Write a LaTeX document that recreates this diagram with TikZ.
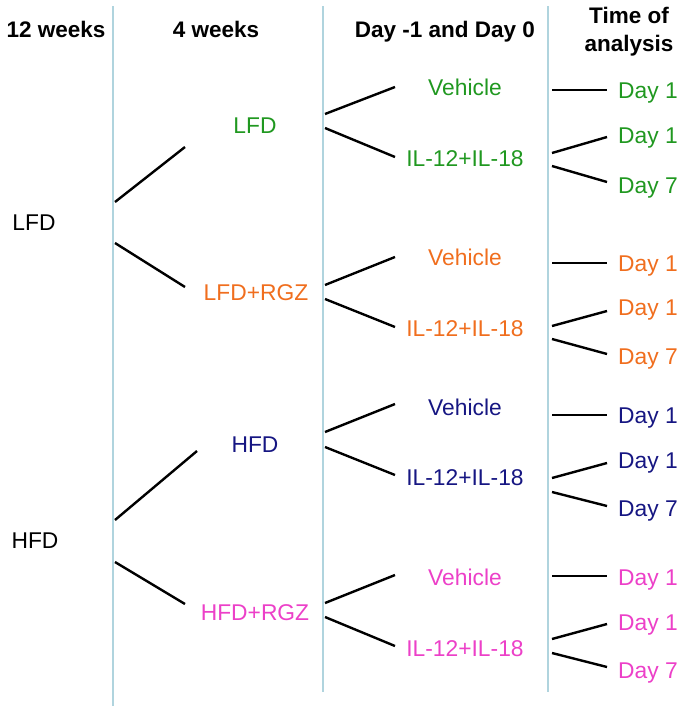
\documentclass[tikz,border=0pt]{standalone}
\usepackage{fontspec}
\setmainfont{Liberation Sans}
\definecolor{lfdcol}{RGB}{32,152,32}
\definecolor{rgzcol}{RGB}{240,110,30}
\definecolor{hfdcol}{RGB}{22,22,130}
\definecolor{hrgzcol}{RGB}{236,64,200}
\definecolor{sepcol}{RGB}{176,212,222}

\begin{document}
\begin{tikzpicture}[x=1pt, y=-1pt,
  lbl/.style={inner sep=0pt, text height=16.2pt, text depth=0pt, font=\fontsize{22.8}{26}\selectfont},
  hdr/.style={inner sep=0pt, anchor=base, font=\fontsize{22.5}{28}\selectfont\bfseries},
  sep/.style={draw=sepcol, line width=2pt},
  branch/.style={line width=2.4pt}]
\useasboundingbox (0,0) rectangle (686,713);

% column separators
\draw[sep] (113,6) -- (113,706);
\draw[sep] (323,6) -- (323,692);
\draw[sep] (548,6) -- (548,692);

% headers
\node[hdr] (h12w) at (56,37) {12 weeks};
\node[hdr] (h4w) at (216,37) {4 weeks};
\node[hdr] (hday) at (445,37) {Day -1 and Day 0};
\node[hdr, anchor=north, align=center] (htime) at (629,7) {Time of\\analysis};

% diets, 12 weeks
\node[lbl] (lfd0) at (34,222) {LFD};
\node[lbl] (hfd0) at (35,540) {HFD};

% diets, 4 weeks
\node[lbl, text=lfdcol] (lfd) at (255,125) {LFD};
\node[lbl, text=rgzcol] (lrgz) at (256,292) {LFD+RGZ};
\node[lbl, text=hfdcol] (hfd) at (255,444) {HFD};
\node[lbl, text=hrgzcol] (hrgz) at (255,612) {HFD+RGZ};

% treatment
\node[lbl, text=lfdcol] (lfd-veh) at (465,87) {Vehicle};
\node[lbl, text=lfdcol] (lfd-il) at (465,158) {IL-12+IL-18};
\node[lbl, text=rgzcol] (lrgz-veh) at (465,257) {Vehicle};
\node[lbl, text=rgzcol] (lrgz-il) at (465,328) {IL-12+IL-18};
\node[lbl, text=hfdcol] (hfd-veh) at (465,407) {Vehicle};
\node[lbl, text=hfdcol] (hfd-il) at (465,477) {IL-12+IL-18};
\node[lbl, text=hrgzcol] (hrgz-veh) at (465,577) {Vehicle};
\node[lbl, text=hrgzcol] (hrgz-il) at (465,648) {IL-12+IL-18};

% time of analysis
\node[lbl, text=lfdcol] (lfd-d1) at (648,90) {Day 1};
\node[lbl, text=lfdcol] (lfd-d1b) at (648,135) {Day 1};
\node[lbl, text=lfdcol] (lfd-d7) at (648,185) {Day 7};
\node[lbl, text=rgzcol] (lrgz-d1) at (648,263) {Day 1};
\node[lbl, text=rgzcol] (lrgz-d1b) at (648,307) {Day 1};
\node[lbl, text=rgzcol] (lrgz-d7) at (648,356) {Day 7};
\node[lbl, text=hfdcol] (hfd-d1) at (648,415) {Day 1};
\node[lbl, text=hfdcol] (hfd-d1b) at (648,460) {Day 1};
\node[lbl, text=hfdcol] (hfd-d7) at (648,508) {Day 7};
\node[lbl, text=hrgzcol] (hrgz-d1) at (648,577) {Day 1};
\node[lbl, text=hrgzcol] (hrgz-d1b) at (648,622) {Day 1};
\node[lbl, text=hrgzcol] (hrgz-d7) at (648,670) {Day 7};

% branch ends, 12 weeks -> 4 weeks
\coordinate (l-up0) at (115,202); \coordinate (l-up1) at (185,147);
\coordinate (l-dn0) at (115,243); \coordinate (l-dn1) at (185,287);
\coordinate (h-up0) at (115,520); \coordinate (h-up1) at (197,451);
\coordinate (h-dn0) at (115,562); \coordinate (h-dn1) at (185,604);
\draw[branch] (l-up0) -- (l-up1);
\draw[branch] (l-dn0) -- (l-dn1);
\draw[branch] (h-up0) -- (h-up1);
\draw[branch] (h-dn0) -- (h-dn1);

% branch ends, 4 weeks -> treatment
\coordinate (lfd-a0) at (325,114); \coordinate (lfd-a1) at (395,87);
\coordinate (lfd-b0) at (325,128); \coordinate (lfd-b1) at (395,157);
\coordinate (lrgz-a0) at (325,285); \coordinate (lrgz-a1) at (395,257);
\coordinate (lrgz-b0) at (325,299); \coordinate (lrgz-b1) at (395,327);
\coordinate (hfd-a0) at (325,432); \coordinate (hfd-a1) at (395,404);
\coordinate (hfd-b0) at (325,447); \coordinate (hfd-b1) at (395,475);
\coordinate (hrgz-a0) at (325,603); \coordinate (hrgz-a1) at (395,575);
\coordinate (hrgz-b0) at (325,617); \coordinate (hrgz-b1) at (395,646);
\draw[branch] (lfd-a0) -- (lfd-a1);
\draw[branch] (lfd-b0) -- (lfd-b1);
\draw[branch] (lrgz-a0) -- (lrgz-a1);
\draw[branch] (lrgz-b0) -- (lrgz-b1);
\draw[branch] (hfd-a0) -- (hfd-a1);
\draw[branch] (hfd-b0) -- (hfd-b1);
\draw[branch] (hrgz-a0) -- (hrgz-a1);
\draw[branch] (hrgz-b0) -- (hrgz-b1);

% branch ends, treatment -> time of analysis
\coordinate (lfd-c0) at (552,90); \coordinate (lfd-c1) at (607,90);
\coordinate (lfd-d0) at (552,153); \coordinate (lfd-d1) at (607,137);
\coordinate (lfd-e0) at (552,166); \coordinate (lfd-e1) at (607,182);
\coordinate (lrgz-c0) at (552,263); \coordinate (lrgz-c1) at (607,263);
\coordinate (lrgz-d0) at (552,326); \coordinate (lrgz-d1) at (607,311);
\coordinate (lrgz-e0) at (552,339); \coordinate (lrgz-e1) at (607,354);
\coordinate (hfd-c0) at (552,415); \coordinate (hfd-c1) at (607,415);
\coordinate (hfd-d0) at (552,478); \coordinate (hfd-d1) at (607,463);
\coordinate (hfd-e0) at (552,492); \coordinate (hfd-e1) at (607,506);
\coordinate (hrgz-c0) at (552,576); \coordinate (hrgz-c1) at (607,576);
\coordinate (hrgz-d0) at (552,639); \coordinate (hrgz-d1) at (607,624);
\coordinate (hrgz-e0) at (552,653); \coordinate (hrgz-e1) at (607,667);
\draw[branch] (lfd-c0) -- (lfd-c1);
\draw[branch] (lfd-d0) -- (lfd-d1);
\draw[branch] (lfd-e0) -- (lfd-e1);
\draw[branch] (lrgz-c0) -- (lrgz-c1);
\draw[branch] (lrgz-d0) -- (lrgz-d1);
\draw[branch] (lrgz-e0) -- (lrgz-e1);
\draw[branch] (hfd-c0) -- (hfd-c1);
\draw[branch] (hfd-d0) -- (hfd-d1);
\draw[branch] (hfd-e0) -- (hfd-e1);
\draw[branch] (hrgz-c0) -- (hrgz-c1);
\draw[branch] (hrgz-d0) -- (hrgz-d1);
\draw[branch] (hrgz-e0) -- (hrgz-e1);
\end{tikzpicture}
\end{document}
